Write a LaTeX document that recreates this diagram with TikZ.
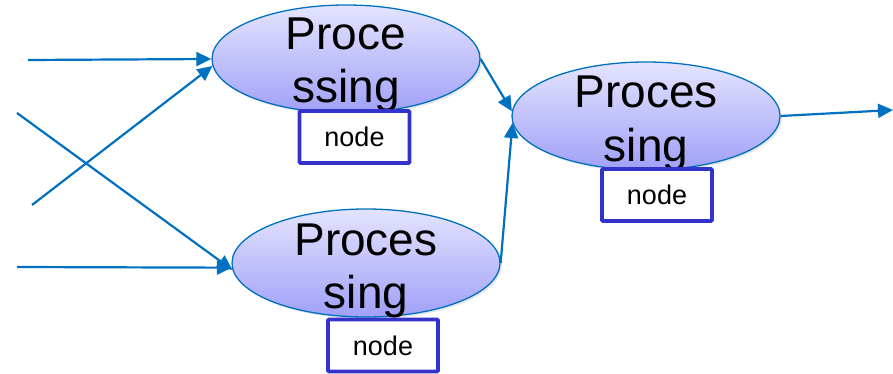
\documentclass[tikz,border=0pt]{standalone}
\usepackage{fontspec}
\setmainfont{Liberation Sans}
\usetikzlibrary{arrows.meta,shapes.geometric,shadows}
\definecolor{linkblue}{RGB}{0,112,192}
\definecolor{boxblue}{RGB}{51,51,204}
\definecolor{proctop}{RGB}{228,228,255}
\definecolor{procbot}{RGB}{160,160,248}
\tikzset{
  proc/.style={ellipse, draw=linkblue, line width=1.3pt, top color=proctop, bottom color=procbot,
    minimum width=268pt, minimum height=108pt, inner sep=0pt,
    drop shadow={opacity=0.2, shadow xshift=2pt, shadow yshift=-2pt}},
  proctext/.style={align=center, font=\fontsize{46}{53}\selectfont, anchor=base, inner sep=0pt},
  nodebox/.style={rectangle, draw=boxblue, line width=3.8pt, fill=white, rounded corners=1pt,
    minimum width=110pt, minimum height=52pt, font=\fontsize{27}{32}\selectfont},
  link/.style={draw=linkblue, line width=2.2pt, -{Triangle[length=15pt,width=14pt]}}
}
\begin{document}
\begin{tikzpicture}[x=1pt, y=-1pt]
        \useasboundingbox (0,0) rectangle (893,374);

        % Processing ellipses
        \node[proc] (p1) at (346, 59) {};
        \node[proc] (p2) at (646, 116) {};
        \node[proc] (p3) at (366, 263) {};
        \node[proctext] (t1) at (346, 103) {Proce\\ssing};
        \node[proctext] (t2) at (646, 161) {Proces\\sing};
        \node[proctext] (t3) at (366, 308) {Proces\\sing};

        % Free ends
        \coordinate (a1) at (28, 60);
        \coordinate (a2) at (32, 205);
        \coordinate (a3) at (17, 113);
        \coordinate (a4) at (17, 267);
        \coordinate (out) at (893, 110);

        % Connections
        \draw[link] (a1) -- (p1.west);
        \draw[link] (a2) -- (p1.183);
        \draw[link] (a3) -- (p3.183);
        \draw[link] (a4) -- (p3.182);
        \draw[link] (p1.east) -- (p2.178);
        \draw[link] (p3.east) -- (p2.183);
        \draw[link] (p2.east) -- (out);

        % Node boxes
        \node[nodebox] (n1) at (354.5, 137) {node};
        \node[nodebox] (n2) at (657, 195) {node};
        \node[nodebox] (n3) at (383, 345.5) {node};
    \end{tikzpicture}
\end{document}
